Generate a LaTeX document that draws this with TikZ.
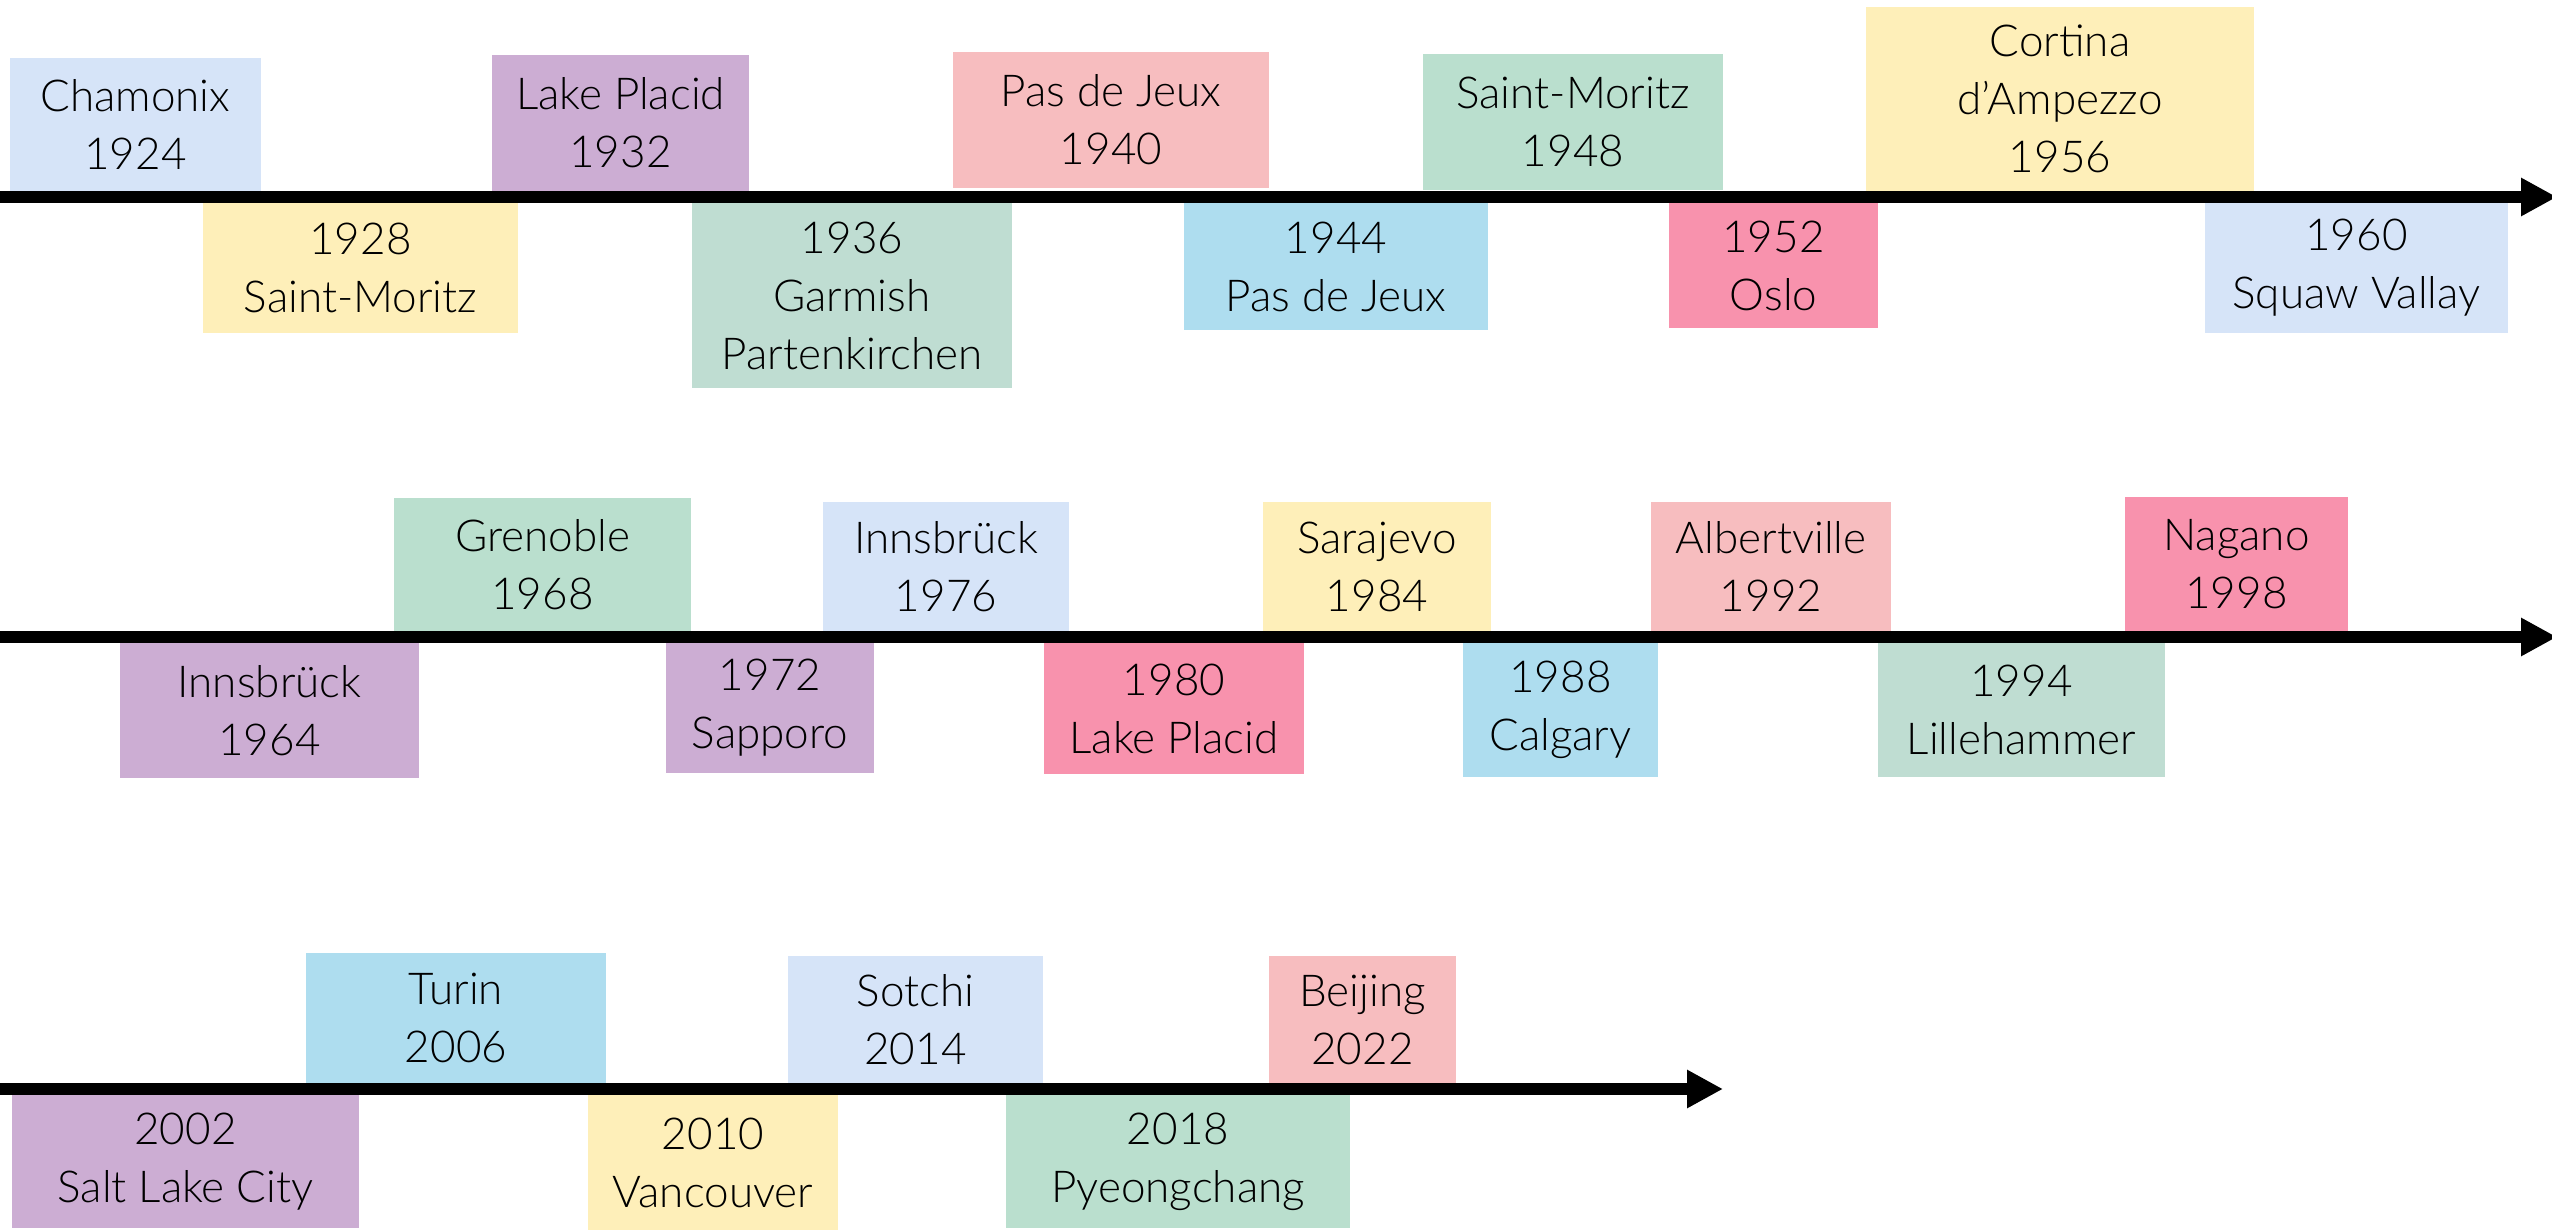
\documentclass[tikz,border=0pt]{standalone}
\usepackage{fontspec}
\setmainfont{Lato}[UprightFont=* Light]
\usetikzlibrary{arrows.meta}

\definecolor{paleblue}{HTML}{D6E4F8}
\definecolor{lilac}{HTML}{CCADD3}
\definecolor{blush}{HTML}{F7BDBF}
\definecolor{rose}{HTML}{F892AD}
\definecolor{butter}{HTML}{FEEFB9}
\definecolor{mint}{HTML}{BADFCE}
\definecolor{sage}{HTML}{BFDDD2}
\definecolor{skyblue}{HTML}{AEDDEF}

\tikzset{every picture/.style={line width=0.75pt}}
\tikzset{
  olybox/.style 2 args={inner sep=0pt, align=center, font=\fontsize{11}{14.5}\selectfont,
    minimum width=#1*0.25pt, minimum height=#2*0.25pt},
  timeline/.style={line width=3pt, -{Triangle[length=9pt,width=9pt]}}
}

\begin{document}
\begin{tikzpicture}[x=0.25pt,y=0.25pt,yscale=-1,xscale=1]
	\useasboundingbox (0,0) rectangle (2552,1230);

	%Straight Lines [id:row1]
	\coordinate (r1s) at (0,197);
	\coordinate (r1e) at (2557,197);
	\draw [timeline] (r1s) -- (r1e) ;
	%Straight Lines [id:row2]
	\coordinate (r2s) at (0,637);
	\coordinate (r2e) at (2557,637);
	\draw [timeline] (r2s) -- (r2e) ;
	%Straight Lines [id:row3]
	\coordinate (r3s) at (0,1089);
	\coordinate (r3e) at (1723,1089);
	\draw [timeline] (r3s) -- (r3e) ;

	%Shape: Rectangle -- first row, above
	\node [olybox={251}{133}, fill=paleblue] (cham24) at (135.5,124.5) {Chamonix\\1924};
	\node [olybox={257}{136}, fill=lilac] (lake32) at (620.5,123) {Lake Placid\\1932};
	\node [olybox={316}{136}, fill=blush] (pasj40) at (1111,120) {Pas de Jeux\\1940};
	\node [olybox={300}{136}, fill=mint] (stmo48) at (1573,122) {Saint-Moritz\\1948};
	\node [olybox={388}{184}, fill=butter] (cort56) at (2060,99) {Cortina\\d’Ampezzo\\1956};
	%Shape: Rectangle -- first row, below
	\node [olybox={315}{130}, fill=butter] (stmo28) at (360.5,268) {1928\\Saint-Moritz};
	\node [olybox={320}{185}, fill=sage] (garm36) at (852,295.5) {1936\\Garmish\\Partenkirchen};
	\node [olybox={304}{127}, fill=skyblue] (pasj44) at (1336,266.5) {1944\\Pas de Jeux};
	\node [olybox={209}{125}, fill=rose] (oslo52) at (1773.5,265.5) {1952\\Oslo};
	\node [olybox={303}{130}, fill=paleblue] (squa60) at (2356.5,268) {1960\\Squaw Vallay};

	%Shape: Rectangle -- second row, above
	\node [olybox={297}{133}, fill=mint] (gren68) at (542.5,564.5) {Grenoble\\1968};
	\node [olybox={246}{129}, fill=paleblue] (inns76) at (946,566.5) {Innsbrück\\1976};
	\node [olybox={228}{129}, fill=butter] (sara84) at (1377,566.5) {Sarajevo\\1984};
	\node [olybox={240}{129}, fill=blush] (albe92) at (1771,566.5) {Albertville\\1992};
	\node [olybox={223}{134}, fill=rose] (naga98) at (2236.5,564) {Nagano\\1998};
	%Shape: Rectangle -- second row, below
	\node [olybox={299}{135}, fill=lilac] (inns64) at (269.5,710.5) {Innsbrück\\1964};
	\node [olybox={208}{130}, fill=lilac] (sapp72) at (770,708) {1972\\Sapporo};
	\node [olybox={260}{131}, fill=rose] (lake80) at (1174,708.5) {1980\\Lake Placid};
	\node [olybox={195}{134}, fill=skyblue] (calg88) at (1560.5,710) {1988\\Calgary};
	\node [olybox={287}{134}, fill=sage] (lill94) at (2021.5,710) {1994\\Lillehammer};

	%Shape: Rectangle -- third row, above
	\node [olybox={300}{130}, fill=skyblue] (turi06) at (456,1018) {Turin\\2006};
	\node [olybox={255}{127}, fill=paleblue] (sotc14) at (915.5,1019.5) {Sotchi\\2014};
	\node [olybox={187}{127}, fill=blush] (beij22) at (1362.5,1019.5) {Beijing\\2022};
	%Shape: Rectangle -- third row, below
	\node [olybox={347}{133}, fill=lilac] (salt02) at (185.5,1161.5) {2002\\Salt Lake City};
	\node [olybox={250}{135}, fill=butter] (vanc10) at (713,1162.5) {2010\\Vancouver};
	\node [olybox={344}{133}, fill=mint] (pyeo18) at (1178,1161.5) {2018\\Pyeongchang};

\end{tikzpicture}
\end{document}
